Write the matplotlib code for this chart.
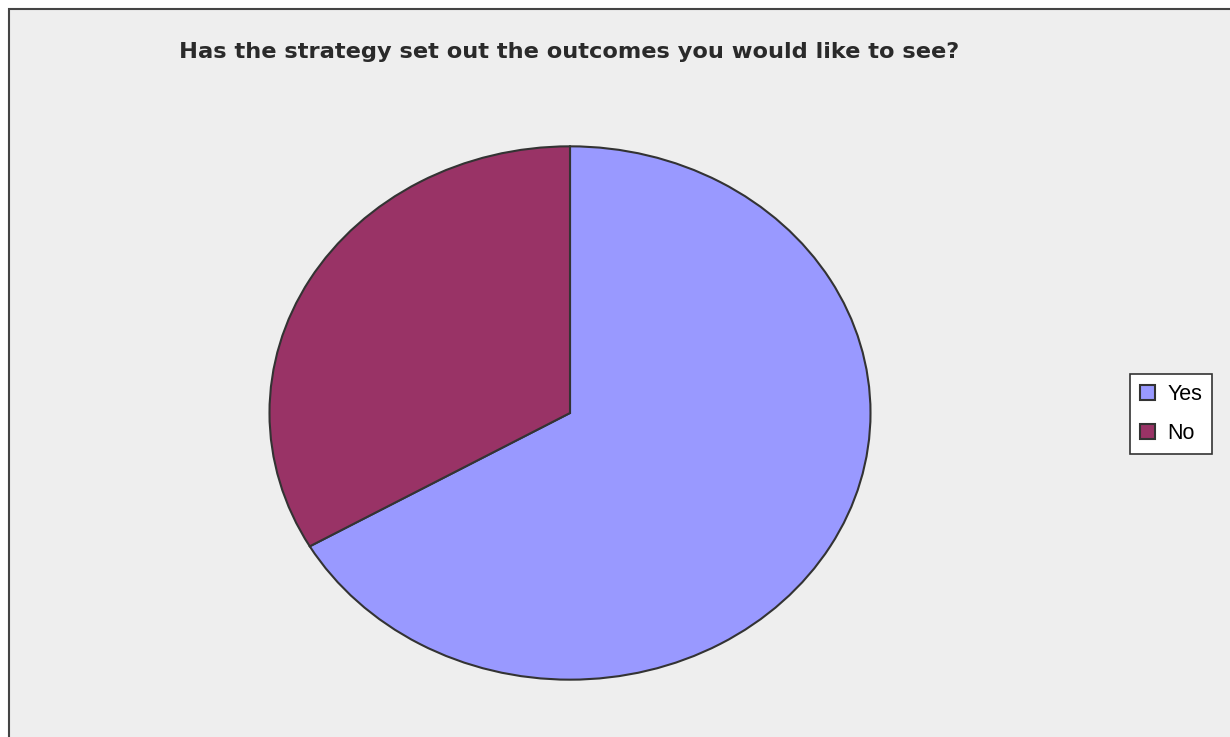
import matplotlib.pyplot as plt
import matplotlib.patches as mpatches

labels = ['Yes', 'No']
values = [2, 1]
colors = ['#9999ff', '#993366']
title = 'Has the strategy set out the outcomes you would like to see?'

W, H = 1230, 737
fig = plt.figure(figsize=(W / 100, H / 100), dpi=100)
fig.patch.set_facecolor('white')

# chart area background, only top and left edges fall inside the canvas
bg = mpatches.Rectangle((9 / W, -0.1), 1.2, (H - 9) / H + 0.1,
                        transform=fig.transFigure, facecolor='#eeeeee',
                        edgecolor='#444444', linewidth=1.5, zorder=-5)
fig.patches.append(bg)

# pie drawn as an ellipse (axes aspect left free)
cx, cy, rx, ry = 570, 413, 302, 268
ax = fig.add_axes([(cx - rx) / W, (H - cy - ry) / H, 2 * rx / W, 2 * ry / H])
ax.set_zorder(2)
ax.pie(values, colors=colors, startangle=90, counterclock=False,
       wedgeprops=dict(edgecolor='#333333', linewidth=1.5))
ax.set_aspect('auto')
ax.set_xlim(-1.005, 1.005)
ax.set_ylim(-1.005, 1.005)
ax.axis('off')

fig.text(569 / W, 1 - 52 / H, title, ha='center', va='center',
         fontsize=16.2, fontweight='bold', family='DejaVu Sans',
         color='#2a2a2a')

handles = [mpatches.Patch(facecolor=c, edgecolor='#333333', linewidth=1.5)
           for c in colors]
leg = fig.legend(handles, labels, loc='center',
                 bbox_to_anchor=(1171 / W, 1 - 414 / H),
                 prop={'family': 'Liberation Sans', 'size': 15.5},
                 handlelength=0.7, handleheight=0.7, handletextpad=0.6,
                 labelspacing=0.85, borderpad=0.45, borderaxespad=0,
                 fancybox=False, framealpha=1, edgecolor='#333333')
leg.get_frame().set_linewidth(1.2)

fig.savefig('out.png', dpi=100)
